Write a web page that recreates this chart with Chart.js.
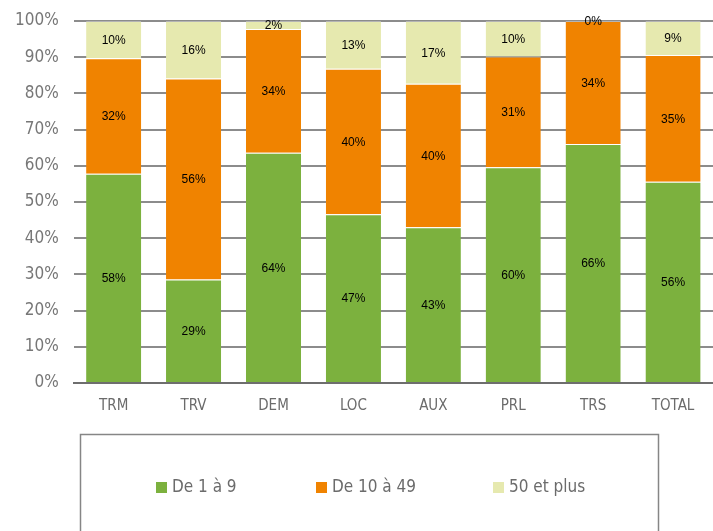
<!DOCTYPE html>
<html>
<head>
<meta charset="utf-8">
<script src="https://cdn.jsdelivr.net/npm/chart.js@4/dist/chart.umd.min.js"></script>
<style>
  html, body { margin: 0; padding: 0; background: #fff; }
  #wrap { position: relative; width: 713px; height: 531px; overflow: hidden; }
</style>
</head>
<body>
<div id="wrap"><canvas id="chart" width="713" height="531"></canvas></div>
<script>
// categories and series (share of firms, %)
const categories = ['TRM', 'TRV', 'DEM', 'LOC', 'AUX', 'PRL', 'TRS', 'TOTAL'];
const small  = [57.8, 28.6, 63.6, 46.6, 43.0, 59.6, 66.0, 55.6];   // De 1 à 9
const medium = [31.9, 55.5, 34.2, 40.2, 39.7, 30.6, 34.0, 35.0];   // De 10 à 49
const large  = [10.3, 15.9,  2.2, 13.2, 17.3,  9.8,  0.0,  9.4];   // 50 et plus
const seriesNames = ['De 1 à 9', 'De 10 à 49', '50 et plus'];
const yTicks = [0, 10, 20, 30, 40, 50, 60, 70, 80, 90, 100];

const colors = ['#7cb13e', '#f08300', '#e6e9af'];
const FONT = '"DejaVu Sans Condensed", "DejaVu Sans", sans-serif';

// values written in the middle of every segment
const segmentLabels = {
  id: 'segmentLabels',
  afterDatasetsDraw(chart) {
    const ctx = chart.ctx;
    ctx.save();
    ctx.font = '12px "Liberation Sans", Arial, sans-serif';
    ctx.fillStyle = '#000';
    ctx.textAlign = 'center';
    ctx.textBaseline = 'middle';
    chart.data.datasets.forEach((ds, i) => {
      chart.getDatasetMeta(i).data.forEach((bar, j) => {
        const mid = (bar.y + bar.base) / 2;
        ctx.fillText(Math.round(ds.data[j]) + '%', bar.x, mid + 1);
      });
    });
    ctx.restore();
  }
};

// boxed legend under the chart
const boxLegend = {
  id: 'boxLegend',
  afterDraw(chart) {
    const ctx = chart.ctx;
    ctx.save();
    ctx.strokeStyle = '#868686';
    ctx.lineWidth = 1.5;
    ctx.strokeRect(80.5, 434.5, 578, 120);
    const xs = [156, 316, 493];
    ctx.font = '17px ' + FONT;
    ctx.textBaseline = 'middle';
    ctx.textAlign = 'left';
    chart.data.datasets.forEach((ds, i) => {
      ctx.fillStyle = ds.backgroundColor;
      ctx.fillRect(xs[i], 482, 11, 11);
      ctx.fillStyle = '#6b6b6b';
      ctx.fillText(ds.label, xs[i] + 16, 488);
    });
    ctx.restore();
  }
};

new Chart(document.getElementById('chart'), {
  type: 'bar',
  data: {
    labels: categories,
    datasets: [small, medium, large].map((d, i) => ({
      label: seriesNames[i],
      data: d,
      backgroundColor: colors[i],
      borderColor: 'rgba(255,255,255,0.35)',
      borderWidth: {top: 1, bottom: 0, left: 0, right: 0},
      borderSkipped: false,
      categoryPercentage: 0.69,
      barPercentage: 1.0
    }))
  },
  options: {
    responsive: false,
    animation: false,
    events: [],
    layout: { padding: { left: 0, right: 0, top: 21, bottom: 102 } },
    plugins: { legend: { display: false }, tooltip: { enabled: false } },
    scales: {
      x: {
        stacked: true,
        grid: { display: false, drawTicks: false },
        border: { display: true, color: '#6e6e6e', width: 2 },
        ticks: { color: '#6b6b6b', font: { family: FONT, size: 15 }, padding: 14 }
      },
      y: {
        stacked: true,
        min: 0,
        max: 100,
        afterBuildTicks: axis => { axis.ticks = yTicks.map(v => ({ value: v })); },
        afterFit: axis => { axis.paddingTop = 0; },
        grid: { color: '#8c8c8c', lineWidth: 2, drawTicks: false },
        border: { display: false },
        ticks: {
          color: '#777',
          font: { family: FONT, size: 17 },
          padding: 15,
          callback: v => v + '%'
        }
      }
    }
  },
  plugins: [segmentLabels, boxLegend]
});
</script>
</body>
</html>
